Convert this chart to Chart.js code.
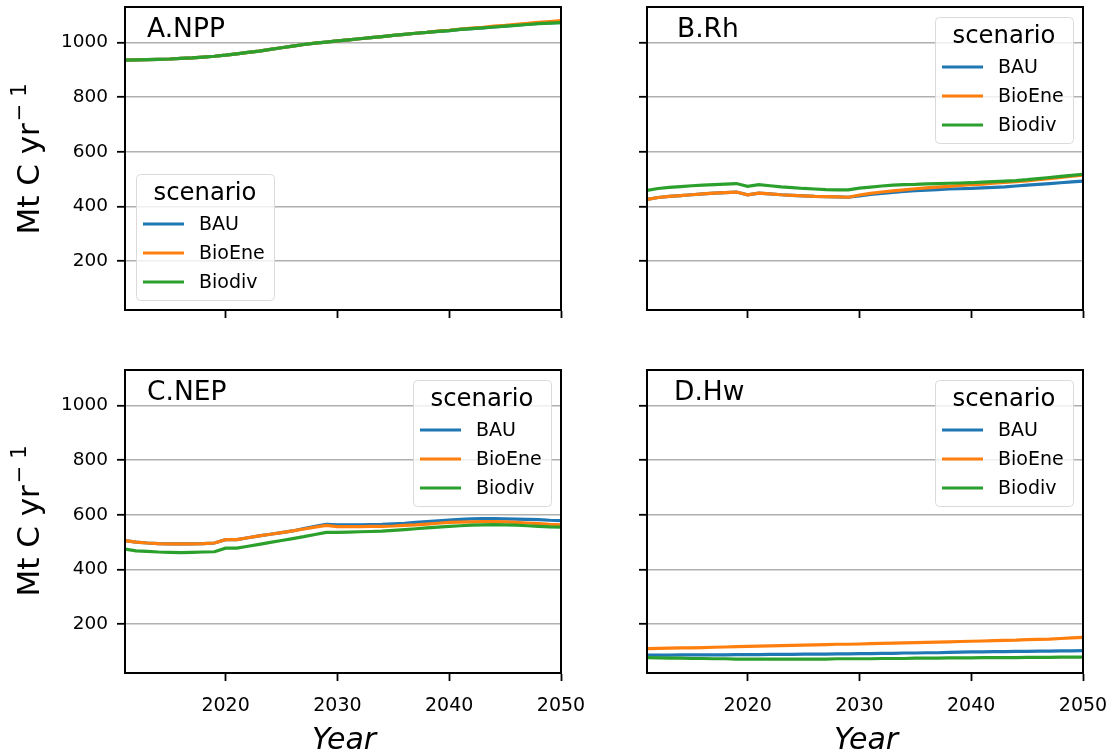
<!DOCTYPE html>
<html>
<head>
<meta charset="utf-8">
<script src="https://cdn.jsdelivr.net/npm/chart.js@4.4.1/dist/chart.umd.min.js"></script>
<style>
  html, body { margin: 0; padding: 0; background: #fff; }
  #wrap { position: relative; width: 1112px; height: 753px; overflow: hidden; }
  #wrap canvas { position: absolute; }
  .txt { position: absolute; font-family: "DejaVu Sans", sans-serif; color: #000; white-space: nowrap; }
  .ylab { font-size: 31px; line-height: 31px; transform: translate(-50%, -50%) rotate(-90deg); }
  .ylab sup { font-size: 21px; line-height: 0; vertical-align: baseline; position: relative; top: -0.62em; margin-left: 2px; }
  .xlab { font-size: 30px; font-style: italic; transform: translate(-50%, -50%); }
</style>
</head>
<body>
<div id="wrap">
  <canvas id="cA"></canvas>
  <canvas id="cB"></canvas>
  <canvas id="cC"></canvas>
  <canvas id="cD"></canvas>
  <div class="txt ylab" style="left:28px; top:159px;">Mt C yr<sup>− 1</sup></div>
  <div class="txt ylab" style="left:28px; top:521px;">Mt C yr<sup>− 1</sup></div>
  <div class="txt xlab" style="left:344px; top:738px;">Year</div>
  <div class="txt xlab" style="left:866px; top:738px;">Year</div>
</div>
<script>
// ---- data ---------------------------------------------------------------
const years = [2011, 2012, 2013, 2014, 2015, 2016, 2017, 2018, 2019, 2020,
               2021, 2022, 2023, 2024, 2025, 2026, 2027, 2028, 2029, 2030,
               2031, 2032, 2033, 2034, 2035, 2036, 2037, 2038, 2039, 2040,
               2041, 2042, 2043, 2044, 2045, 2046, 2047, 2048, 2049, 2050];

const scenarios = ['BAU', 'BioEne', 'Biodiv'];
const scenarioColors = ['#1f77b4', '#ff7f0e', '#2ca02c'];

const yTicks = [200, 400, 600, 800, 1000];
const xTicks = [2020, 2030, 2040, 2050];

// A. net primary production
const nppBAU = [935, 936, 937, 938, 939, 941, 943, 946, 949, 953,
                958, 963, 968, 974, 980, 986, 992, 997, 1001, 1005,
                1009, 1013, 1017, 1021, 1025, 1029, 1033, 1036, 1040, 1043,
                1047, 1050, 1053, 1056, 1059, 1063, 1066, 1069, 1071, 1073];
const nppBioEne = [935, 936, 937, 938, 939, 941, 943, 946, 949, 953,
                   958, 963, 968, 974, 980, 986, 992, 997, 1001, 1005,
                   1009, 1013, 1017, 1021, 1025, 1029, 1033, 1036, 1041, 1044,
                   1048, 1052, 1055, 1059, 1062, 1066, 1069, 1073, 1076, 1079];
const nppBiodiv = [935, 936, 937, 938, 939, 941, 943, 946, 949, 953,
                   958, 963, 968, 974, 980, 986, 992, 997, 1001, 1005,
                   1009, 1013, 1017, 1021, 1025, 1029, 1033, 1036, 1040, 1043,
                   1047, 1050, 1053, 1056, 1059, 1062, 1065, 1068, 1070, 1072];

// B. heterotrophic respiration
const rhBAU = [426, 433, 437, 440, 443, 446, 449, 451, 453, 443,
               449, 446, 443, 441, 439, 437, 436, 435, 434, 439,
               444, 448, 452, 455, 458, 460, 462, 464, 465, 466,
               468, 470, 472, 475, 478, 481, 484, 487, 490, 493];
const rhBioEne = [426, 433, 437, 440, 443, 446, 449, 451, 453, 443,
                  449, 446, 443, 441, 439, 437, 436, 435, 434, 442,
                  448, 453, 457, 461, 465, 468, 471, 474, 477, 480,
                  482, 485, 488, 491, 494, 498, 502, 506, 511, 515];
const rhBiodiv = [459, 466, 470, 473, 476, 478, 480, 482, 484, 474,
                  480, 476, 472, 469, 466, 464, 462, 461, 461, 467,
                  471, 475, 478, 480, 481, 483, 484, 485, 486, 487,
                  489, 491, 493, 495, 498, 502, 506, 510, 514, 518];

// C. net ecosystem production
const nepBAU = [506, 500, 497, 495, 494, 494, 494, 495, 497, 509,
                509, 516, 523, 529, 535, 541, 550, 558, 565, 563,
                563, 563, 564, 565, 567, 569, 572, 575, 578, 581,
                583, 585, 586, 586, 585, 584, 583, 582, 580, 579];
const nepBioEne = [506, 500, 497, 495, 494, 494, 494, 495, 497, 509,
                   509, 516, 523, 529, 535, 541, 548, 555, 561, 557,
                   557, 557, 558, 558, 559, 561, 563, 566, 569, 572,
                   573, 574, 575, 575, 574, 572, 570, 568, 565, 563];
const nepBiodiv = [475, 468, 466, 464, 463, 462, 463, 464, 465, 478,
                   478, 485, 492, 499, 506, 513, 520, 528, 536, 536,
                   537, 538, 539, 540, 543, 546, 549, 552, 555, 558,
                   560, 562, 563, 564, 563, 562, 560, 558, 556, 555];

// D. harvested wood
const hwBAU = [87, 87, 87, 88, 88, 88, 88, 88, 89, 89,
               89, 90, 90, 90, 91, 91, 91, 92, 92, 93,
               93, 94, 94, 95, 95, 96, 96, 97, 98, 99,
               99, 100, 100, 101, 101, 102, 102, 103, 103, 104];
const hwBioEne = [111, 112, 113, 114, 114, 115, 116, 117, 118, 119,
                  120, 121, 122, 123, 124, 125, 126, 127, 127, 128,
                  129, 130, 131, 132, 133, 134, 135, 136, 137, 138,
                  139, 140, 141, 142, 144, 145, 146, 148, 150, 152];
const hwBiodiv = [78, 77, 76, 76, 75, 75, 74, 74, 73, 73,
                  73, 73, 73, 73, 73, 73, 73, 74, 74, 74,
                  74, 75, 75, 75, 76, 76, 76, 77, 77, 77,
                  78, 78, 78, 78, 79, 79, 79, 80, 80, 80];

// ---- shared look ----------------------------------------------------------
const FONT = '"DejaVu Sans", sans-serif';
const Y_MIN = 22, Y_MAX = 1129;

// frame around the plot area, panel title and in-plot legend
const panelDecor = {
  id: 'panelDecor',
  afterDatasetsDraw(chart, args, o) {
    const { ctx, chartArea: a } = chart;
    ctx.save();
    // panel title
    ctx.fillStyle = '#000';
    ctx.font = '26.5px ' + FONT;
    ctx.textBaseline = 'alphabetic';
    ctx.textAlign = 'left';
    ctx.fillText(o.title, a.left + o.titleDx, a.top + 30);

    // legend box
    const { x, y } = o.legend;
    const w = 138, h = 126;
    ctx.beginPath();
    ctx.roundRect(x + 0.5, y + 0.5, w, h, 4);
    ctx.fillStyle = 'rgba(255,255,255,0.8)';
    ctx.fill();
    ctx.strokeStyle = '#dadada';
    ctx.lineWidth = 1;
    ctx.stroke();
    ctx.fillStyle = '#000';
    ctx.textAlign = 'center';
    ctx.textBaseline = 'middle';
    ctx.font = '24.3px ' + FONT;
    ctx.fillText('scenario', x + w / 2, y + 20);
    ctx.font = '19px ' + FONT;
    ctx.textAlign = 'left';
    chart.data.datasets.forEach((ds, i) => {
      const ry = y + 50 + i * 29;
      ctx.strokeStyle = ds.borderColor;
      ctx.lineWidth = 3.2;
      ctx.beginPath();
      ctx.moveTo(x + 7, ry);
      ctx.lineTo(x + 48, ry);
      ctx.stroke();
      ctx.fillStyle = '#000';
      ctx.fillText(ds.label, x + 63, ry + 1);
    });
    ctx.restore();
  },
  afterDraw(chart) {
    const { ctx, chartArea: a } = chart;
    ctx.save();
    ctx.strokeStyle = '#000';
    ctx.lineWidth = 2;
    ctx.strokeRect(a.left, a.top, a.right - a.left, a.bottom - a.top);
    ctx.restore();
  }
};

function makePanel(id, box, area, series, showX, showY, title, titleDx, legendAt) {
  const cv = document.getElementById(id);
  cv.style.left = box.x + 'px';
  cv.style.top = box.y + 'px';
  cv.width = box.w; cv.height = box.h;
  cv.style.width = box.w + 'px'; cv.style.height = box.h + 'px';

  const yAxisW = area.left - box.x;           // y axis band width
  const xAxisH = box.y + box.h - area.bottom; // x axis band height

  return new Chart(cv, {
    type: 'line',
    data: {
      labels: years,
      datasets: scenarios.map((s, i) => ({
        label: s,
        data: years.map((yr, k) => ({ x: yr, y: series[i][k] })),
        borderColor: scenarioColors[i],
        backgroundColor: scenarioColors[i],
        borderWidth: 3.2,
        pointRadius: 0,
        tension: 0,
        fill: false,
        order: scenarios.length - 1 - i   // later scenarios drawn on top
      }))
    },
    options: {
      responsive: false,
      animation: false,
      events: [],
      layout: {
        padding: {
          left: 0,
          top: area.top - box.y,
          right: box.x + box.w - area.right,
          bottom: 0
        }
      },
      plugins: {
        legend: { display: false },
        tooltip: { enabled: false },
        panelDecor: { title: title, titleDx: titleDx,
                      legend: { x: legendAt.x - box.x, y: legendAt.y - box.y } }
      },
      scales: {
        x: {
          type: 'linear',
          min: 2011, max: 2050,
          afterBuildTicks: s => { s.ticks = xTicks.map(v => ({ value: v })); },
          afterFit: s => { s.height = xAxisH; },
          grid: { drawOnChartArea: false, drawTicks: true, tickLength: 8, tickColor: '#000', tickWidth: 1.8 },
          border: { display: true, color: '#000', width: 2 },
          ticks: { display: showX, color: '#000', padding: 14, maxRotation: 0,
                   font: { family: FONT, size: 19 }, callback: v => String(v) }
        },
        y: {
          min: Y_MIN, max: Y_MAX,
          afterBuildTicks: s => { s.ticks = yTicks.map(v => ({ value: v })); },
          afterFit: s => { s.width = yAxisW; },
          grid: { color: '#b0b0b0', lineWidth: 1.6, drawTicks: true, tickLength: 8,
                  tickColor: '#000', tickWidth: 1.8 },
          border: { display: true, color: '#000', width: 2 },
          ticks: { display: showY, color: '#000', padding: 9,
                   font: { family: FONT, size: 18.5 }, callback: v => String(v) }
        }
      }
    },
    plugins: [panelDecor]
  });
}

makePanel('cA', { x: 0, y: -30, w: 600, h: 370 },
          { left: 125, top: 7, right: 561, bottom: 310 },
          [nppBAU, nppBioEne, nppBiodiv], false, true, 'A.NPP', 22, { x: 136, y: 174 });
makePanel('cB', { x: 600, y: -30, w: 512, h: 370 },
          { left: 647, top: 7, right: 1083, bottom: 310 },
          [rhBAU, rhBioEne, rhBiodiv], false, false, 'B.Rh', 30, { x: 935, y: 17 });
makePanel('cC', { x: 0, y: 340, w: 600, h: 413 },
          { left: 125, top: 370, right: 561, bottom: 673 },
          [nepBAU, nepBioEne, nepBiodiv], true, true, 'C.NEP', 22, { x: 413, y: 380 });
makePanel('cD', { x: 600, y: 340, w: 560, h: 413 },
          { left: 647, top: 370, right: 1083, bottom: 673 },
          [hwBAU, hwBioEne, hwBiodiv], true, false, 'D.Hw', 27, { x: 935, y: 380 });
</script>
</body>
</html>
